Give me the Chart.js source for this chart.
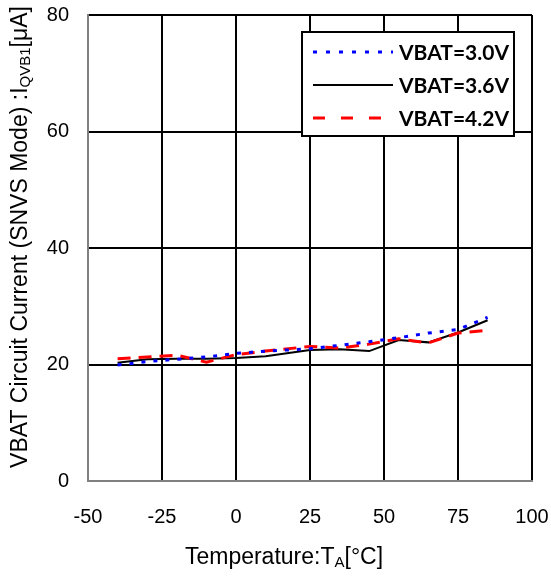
<!DOCTYPE html>
<html lang="en">
<head>
<meta charset="UTF-8">
<title>VBAT Circuit Current vs Temperature</title>
<script src="https://cdn.jsdelivr.net/npm/chart.js"></script>
<style>
    html, body { margin: 0; padding: 0; background: #fff; }
    #wrap { width: 551px; height: 576px; }
</style>
</head>
<body>
<div id="wrap"><canvas id="myChart" width="551" height="576"></canvas></div>
<script>
    // temperatures in degC
    const temps = [-40, -30, -20, -10, 0, 10, 25, 35, 45, 55, 65, 75, 85];
    // current in uA
    const vbat30 = [19.9, 20.5, 20.9, 21.3, 21.9, 22.3, 22.7, 23.3, 23.9, 24.6, 25.4, 26.0, 28.1];
    const vbat36 = [20.3, 20.9, 21.0, 21.0, 21.1, 21.4, 22.5, 22.6, 22.3, 24.2, 23.8, 25.5, 27.6];
    const vbat42 = [21.0, 21.3, 21.6, 20.4, 21.7, 22.3, 23.1, 22.8, 23.5, 24.4, 23.7, 25.4, 25.9];
    const seriesNames = ['VBAT=3.0V', 'VBAT=3.6V', 'VBAT=4.2V'];
    const xTicks = [-50, -25, 0, 25, 50, 75, 100];
    const yTicks = [0, 20, 40, 60, 80];

    const FONT = '"Liberation Sans", Arial, sans-serif';

    function pts(vals) {
        return temps.map((t, i) => ({ x: t, y: vals[i] }));
    }

    // draws text made of normal and subscript parts, centred on 0,0
    function drawParts(ctx, parts, size) {
        const subSize = Math.round(size * 0.65);
        let total = 0;
        parts.forEach(p => {
            ctx.font = (p.sub ? subSize : size) + 'px ' + FONT;
            p.w = ctx.measureText(p.t).width;
            total += p.w;
        });
        let x = -total / 2;
        parts.forEach(p => {
            ctx.font = (p.sub ? subSize : size) + 'px ' + FONT;
            ctx.fillText(p.t, x, p.sub ? size * 0.22 : 0);
            x += p.w;
        });
    }

    const axisTitles = {
        id: 'axisTitles',
        afterDraw(chart) {
            const ctx = chart.ctx;
            const area = chart.chartArea;
            ctx.save();
            ctx.fillStyle = '#000';
            ctx.textBaseline = 'middle';
            ctx.textAlign = 'left';
            // x title
            ctx.save();
            ctx.translate((area.left + area.right) / 2 - 26, 558);
            drawParts(ctx, [{ t: 'Temperature:T' }, { t: 'A', sub: true }, { t: '[°C]' }], 23);
            ctx.restore();
            // y title
            ctx.save();
            ctx.translate(21, 237);
            ctx.rotate(-Math.PI / 2);
            drawParts(ctx, [{ t: 'VBAT Circuit Current (SNVS Mode) :I' }, { t: 'QVB1', sub: true }, { t: '[μA]' }], 23);
            ctx.restore();
            ctx.restore();
        }
    };

    const boxLegend = {
        id: 'boxLegend',
        afterDraw(chart) {
            const ctx = chart.ctx;
            const area = chart.chartArea;
            const w = 212, h = 104;
            const left = area.right - 18 - w, top = area.top + 17;
            ctx.save();
            ctx.fillStyle = '#fff';
            ctx.fillRect(left, top, w, h);
            ctx.strokeStyle = '#000';
            ctx.lineWidth = 2;
            ctx.strokeRect(left, top, w, h);
            chart.data.datasets.forEach((ds, i) => {
                const y = top + 20 + i * 33;
                ctx.beginPath();
                ctx.setLineDash(ds.legendDash || []);
                ctx.strokeStyle = ds.borderColor;
                ctx.lineWidth = ds.borderWidth;
                ctx.moveTo(left + 11, y);
                ctx.lineTo(left + 91, y);
                ctx.stroke();
                ctx.setLineDash([]);
                ctx.fillStyle = '#000';
                ctx.font = 'bold 21px Lato, "Open Sans", sans-serif';
                ctx.textBaseline = 'middle';
                ctx.fillText(ds.label, left + 97, y + 1);
            });
            ctx.restore();
        }
    };

    const ctx = document.getElementById('myChart').getContext('2d');
    new Chart(ctx, {
        type: 'line',
        data: {
            datasets: [{
                label: seriesNames[0],
                data: pts(vbat30),
                borderColor: '#0000ff',
                borderWidth: 3,
                borderDash: [4, 8],
                legendDash: [4, 9],
                pointRadius: 0,
                order: 1
            }, {
                label: seriesNames[1],
                data: pts(vbat36),
                borderColor: '#000000',
                borderWidth: 2,
                pointRadius: 0,
                order: 3
            }, {
                label: seriesNames[2],
                data: pts(vbat42),
                borderColor: '#ff0000',
                borderWidth: 3,
                borderDash: [13, 8],
                legendDash: [12, 16],
                pointRadius: 0,
                order: 2
            }]
        },
        options: {
            responsive: false,
            animation: false,
            layout: { padding: { top: 15, right: 19, left: 0, bottom: 0 } },
            plugins: {
                legend: { display: false },
                tooltip: { enabled: false }
            },
            scales: {
                x: {
                    type: 'linear',
                    min: xTicks[0],
                    max: xTicks[xTicks.length - 1],
                    afterBuildTicks: s => { s.ticks = xTicks.map(v => ({ value: v })); },
                    afterFit: s => { s.height = 95; s.paddingLeft = 0; s.paddingRight = 0; },
                    grid: {
                        drawTicks: false,
                        lineWidth: 2,
                        color: c => c.index === 0 ? 'rgba(0,0,0,0)' : '#000'
                    },
                    border: { color: '#808080', width: 2 },
                    ticks: {
                        padding: 24,
                        color: '#000',
                        font: { family: FONT, size: 20 }
                    }
                },
                y: {
                    min: yTicks[0],
                    max: yTicks[yTicks.length - 1],
                    afterBuildTicks: s => { s.ticks = yTicks.map(v => ({ value: v })); },
                    afterFit: s => { s.width = 88; s.paddingTop = 0; s.paddingBottom = 0; },
                    grid: {
                        drawTicks: false,
                        lineWidth: 2,
                        color: c => c.index === 0 ? 'rgba(0,0,0,0)' : '#000'
                    },
                    border: { color: '#808080', width: 2 },
                    ticks: {
                        padding: 19,
                        color: '#000',
                        font: { family: FONT, size: 20 }
                    }
                }
            }
        },
        plugins: [axisTitles, boxLegend]
    });
</script>
</body>
</html>
